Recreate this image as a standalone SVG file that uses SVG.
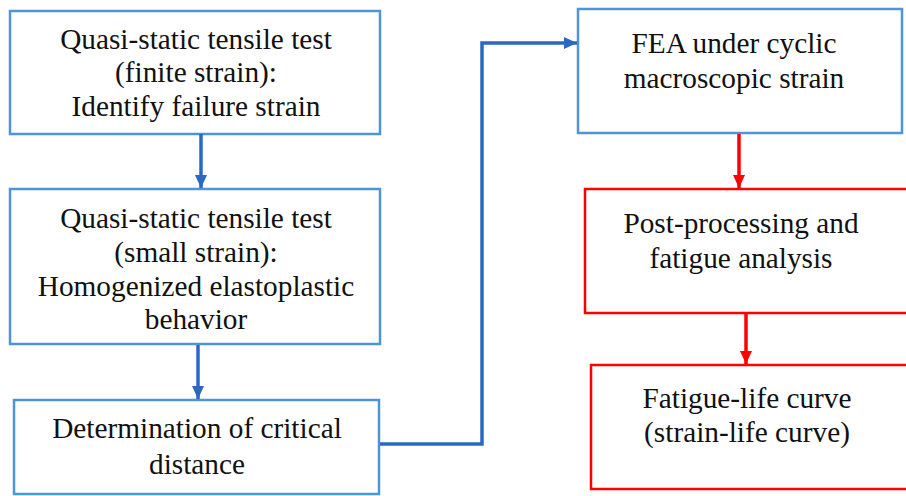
<svg xmlns="http://www.w3.org/2000/svg" width="906" height="496" viewBox="0 0 906 496">
<style>
.bb{fill:#fff;stroke:#4f93d8;stroke-width:2.5}
.rb{fill:#fff;stroke:#ff0000;stroke-width:2.5}
.t{font-family:'Liberation Serif','Times New Roman',serif;font-size:29.3px;fill:#111;text-anchor:middle}
.bc{fill:none;stroke:#2a69c2;stroke-width:3.5}
.rc{fill:none;stroke:#ff0000;stroke-width:3.5}
</style>
<defs>
<marker id="ab" markerUnits="userSpaceOnUse" markerWidth="14" markerHeight="14" viewBox="0 0 14 14" refX="13" refY="7" orient="auto"><path d="M0,1 L13,7 L0,13 Z" fill="#2a69c2"/></marker>
<marker id="ar" markerUnits="userSpaceOnUse" markerWidth="14" markerHeight="14" viewBox="0 0 14 14" refX="13" refY="7" orient="auto"><path d="M0,1 L13,7 L0,13 Z" fill="#ff0000"/></marker>
</defs>
<g id="n1"><rect class="bb" x="10" y="11" width="370" height="123"/>
<text class="t" x="196" y="49">Quasi-static tensile test</text>
<text class="t" x="196" y="82">(finite strain):</text>
<text class="t" x="196" y="116">Identify failure strain</text></g>
<g id="n2"><rect class="bb" x="10" y="189" width="370" height="155"/>
<text class="t" x="196" y="228">Quasi-static tensile test</text>
<text class="t" x="196" y="262">(small strain):</text>
<text class="t" x="196" y="296">Homogenized elastoplastic</text>
<text class="t" x="196" y="329">behavior</text></g>
<g id="n3"><rect class="bb" x="14" y="400" width="365" height="94"/>
<text class="t" x="197" y="438">Determination of critical</text>
<text class="t" x="197" y="474">distance</text></g>
<g id="n4"><rect class="bb" x="578" y="9" width="324" height="124"/>
<text class="t" x="734" y="53">FEA under cyclic</text>
<text class="t" x="734" y="88">macroscopic strain</text></g>
<g id="n5"><rect class="rb" x="585" y="189" width="340" height="124"/>
<text class="t" x="741" y="233">Post-processing and</text>
<text class="t" x="741" y="268">fatigue analysis</text></g>
<g id="n6"><rect class="rb" x="591" y="365" width="340" height="124"/>
<text class="t" x="747" y="408">Fatigue-life curve</text>
<text class="t" x="747" y="442">(strain-life curve)</text></g>
<g id="connectors">
<path class="bc" d="M201,134 V188" marker-end="url(#ab)"/>
<path class="bc" d="M198,345 V399" marker-end="url(#ab)"/>
<path class="bc" d="M380,444 H482 V43 H577" marker-end="url(#ab)"/>
<path class="rc" d="M739,134 V188" marker-end="url(#ar)"/>
<path class="rc" d="M746,314 V364" marker-end="url(#ar)"/>
</g>
</svg>
